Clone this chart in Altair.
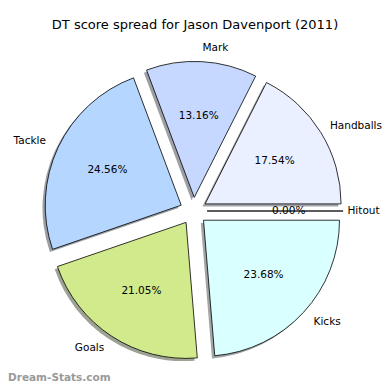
import altair as alt
import pandas as pd

title_text = "DT score spread for Jason Davenport (2011)"
watermark = "Dream-Stats.com"
labels = ["Handballs", "Mark", "Tackle", "Goals", "Kicks", "Hitout"]
scores = [20, 15, 28, 24, 27, 0]
colors = ["#eaf0ff", "#c6d8ff", "#b4d6ff", "#d1eb8c", "#daffff", "#f2f2f2"]


def darken(h, f=0.3):
    r, g, b = (int(h[i:i + 2], 16) for i in (1, 3, 5))
    return "#%02x%02x%02x" % (int(r * f), int(g * f), int(b * f))


shadows = [darken(c) for c in colors]

df = pd.DataFrame({
    "label": labels,
    "score": scores,
    "color": colors,
    "shadow": shadows,
    "order": list(range(len(labels))),
})

R = 136
CX, CY = 185.5, 203
xs = alt.Scale(domain=[-1, 1], range=[CX - R, CX + R])
ys = alt.Scale(domain=[-1, 1], range=[CY + R, CY - R])

base = (
    alt.Chart(df)
    .transform_window(cum="sum(score)", sort=[alt.SortField("order")], frame=[None, 0])
    .transform_joinaggregate(total="sum(score)")
    .transform_calculate(a0="2*PI*(datum.cum - datum.score)/datum.total")
    .transform_calculate(a1="2*PI*datum.cum/datum.total")
    .transform_calculate(mid="(datum.a0 + datum.a1)/2")
    .transform_calculate(t1="PI/2 - datum.a1", t2="PI/2 - datum.a0")
    .transform_calculate(ex="0.1*cos(datum.mid)", ey="0.1*sin(datum.mid)")
    .transform_calculate(sx="datum.ex - 0.02", sy="datum.ey - 0.02")
    .transform_calculate(lx="1.2*cos(datum.mid)", ly="1.2*sin(datum.mid)")
    # keep right-hand labels inside the drawing area
    .transform_calculate(lxc="min(datum.lx, 1.39 - 0.043*length(datum.label))")
    .transform_calculate(px="0.7*cos(datum.mid)", py="0.7*sin(datum.mid)")
    .transform_calculate(pct="format(100*datum.score/datum.total, '.2f') + '%'")
)

shadow = base.mark_arc(radius=R, opacity=0.5).encode(
    x=alt.X("sx:Q", scale=xs, axis=None),
    y=alt.Y("sy:Q", scale=ys, axis=None),
    theta=alt.Theta("t1:Q", scale=None),
    theta2="t2:Q",
    fill=alt.Fill("shadow:N", scale=None),
)

wedges = base.mark_arc(radius=R, stroke="black", strokeWidth=0.8).encode(
    x=alt.X("ex:Q", scale=xs, axis=None),
    y=alt.Y("ey:Q", scale=ys, axis=None),
    theta=alt.Theta("t1:Q", scale=None),
    theta2="t2:Q",
    fill=alt.Fill("color:N", scale=None),
)

txt = dict(font="DejaVu Sans", fontSize=10.5, color="black", baseline="middle")

lab_left = base.transform_filter("cos(datum.mid) >= 0").mark_text(align="left", **txt).encode(
    x=alt.X("lxc:Q", scale=xs, axis=None),
    y=alt.Y("ly:Q", scale=ys, axis=None),
    text="label:N",
)
lab_right = base.transform_filter("cos(datum.mid) < 0").mark_text(align="right", **txt).encode(
    x=alt.X("lx:Q", scale=xs, axis=None),
    y=alt.Y("ly:Q", scale=ys, axis=None),
    text="label:N",
)
pcts = base.mark_text(align="center", **txt).encode(
    x=alt.X("px:Q", scale=xs, axis=None),
    y=alt.Y("py:Q", scale=ys, axis=None),
    text="pct:N",
)

title = alt.Chart(pd.DataFrame({"t": [title_text]})).mark_text(
    font="DejaVu Sans", fontSize=13, color="black", align="center", baseline="middle"
).encode(x=alt.value(187), y=alt.value(17), text="t:N")

wm = alt.Chart(pd.DataFrame({"t": [watermark]})).mark_text(
    font="DejaVu Sans", fontSize=10.5, fontWeight="bold", color="#9a9a9a",
    align="left", baseline="alphabetic"
).encode(x=alt.value(0), y=alt.value(373), text="t:N")

chart = alt.layer(shadow, wedges, lab_left, lab_right, pcts, title, wm).properties(
    width=374, height=374, padding=0, autosize=alt.AutoSizeParams(type="none")
).configure_view(stroke=None)

chart.save("out.html", embed_options={"renderer": "svg", "actions": False})
